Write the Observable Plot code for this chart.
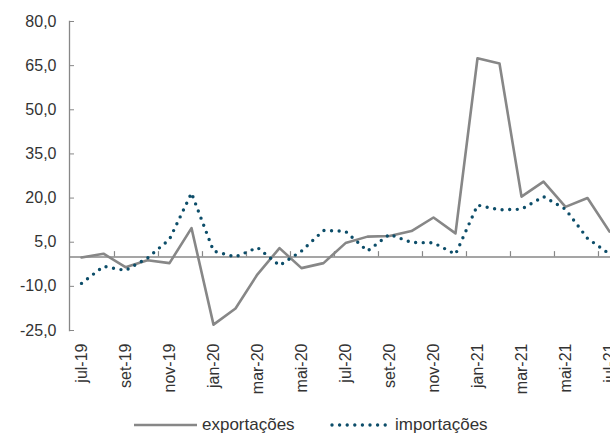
<!DOCTYPE html>
<html>
<head>
<meta charset="utf-8">
<script src="https://cdn.jsdelivr.net/npm/d3@7"></script>
<script src="https://cdn.jsdelivr.net/npm/@observablehq/plot@0.6"></script>
<style>
  html, body { margin: 0; padding: 0; background: #fff; overflow: hidden; }
  #chart svg { overflow: hidden; }
  .legend { position: relative; height: 30px; font-family: "Liberation Sans", Arial, sans-serif; font-size: 17px; color: #333; }
  .legend .item { position: absolute; top: 11px; display: flex; align-items: center; }
  .legend svg { display: block; margin-right: 5px; }
</style>
</head>
<body>
<div id="chart"></div>
<div class="legend" id="legend"></div>
<script>
// Monthly year-on-year change (%), Jul 2019 – Jul 2021
const months = [
  "jul-19", "ago-19", "set-19", "out-19", "nov-19", "dez-19",
  "jan-20", "fev-20", "mar-20", "abr-20", "mai-20", "jun-20",
  "jul-20", "ago-20", "set-20", "out-20", "nov-20", "dez-20",
  "jan-21", "fev-21", "mar-21", "abr-21", "mai-21", "jun-21", "jul-21"
];
const exportacoes = [
  -0.2, 1.1, -3.5, -1.1, -2.1, 9.8,
  -23.0, -17.5, -5.9, 3.0, -3.8, -2.1,
  4.7, 6.9, 7.1, 8.8, 13.4, 8.0,
  67.5, 65.7, 20.5, 25.6, 17.0, 20.0, 8.6
];
const importacoes = [
  -9.0, -3.2, -4.6, -0.4, 6.0, 21.7,
  2.0, 0.0, 3.2, -2.9, 2.0, 9.0,
  8.7, 2.0, 7.7, 4.9, 4.8, 0.9,
  17.6, 16.0, 16.2, 20.5, 16.2, 6.3, 1.0
];
const yTicks = [-25, -10, 5, 20, 35, 50, 65, 80];
const seriesNames = ["exportações", "importações"];

const labelMonths = months.filter((d, i) => i % 2 === 0);
const boundaryMonths = labelMonths.slice(1);

const rows = months.map((mes, i) => ({mes, exp: exportacoes[i], imp: importacoes[i]}));

const xRange = [69, 620];
const step = (xRange[1] - xRange[0]) / months.length;
const fmt = d => d.toFixed(1).replace(".", ",");

const grey = "#878787";
const blue = "#0c4d69";

const chart = Plot.plot({
  width: 610,
  height: 404,
  marginLeft: 69,
  marginRight: 0,
  marginTop: 21,
  marginBottom: 74,
  style: {fontFamily: "'Liberation Sans', Arial, sans-serif", fontSize: "16px", color: "#333", background: "#fff"},
  x: {type: "point", domain: months, range: xRange, padding: 0.5, label: null},
  y: {domain: [-25, 80], label: null},
  marks: [
    Plot.ruleY([0], {stroke: grey, strokeWidth: 1.6}),
    // category-boundary ticks on the zero line, every two months
    Plot.ruleX(boundaryMonths, {x: d => d, y1: 0, y2: 1.8, dx: -step / 2, stroke: grey, strokeWidth: 1.2}),
    Plot.frame({anchor: "left", stroke: grey, strokeWidth: 1.3}),
    Plot.axisY({ticks: yTicks, tickSize: -5, tickPadding: 18, tickFormat: fmt, stroke: grey, fill: "#333", label: null}),
    Plot.axisX({ticks: labelMonths, tickRotate: -90, tickSize: 0, tickPadding: 13, fill: "#333", label: null}),
    Plot.lineY(rows, {x: "mes", y: "exp", stroke: grey, strokeWidth: 2.6}),
    Plot.lineY(rows, {x: "mes", y: "imp", stroke: blue, strokeWidth: 3.4, strokeDasharray: "0 7.6", strokeLinecap: "round"})
  ]
});
document.getElementById("chart").append(chart);

// legend
const legend = document.getElementById("legend");
const items = [
  {name: seriesNames[0], left: 134, w: 63, stroke: grey, width: 2.6, dash: null},
  {name: seriesNames[1], left: 330, w: 60, stroke: blue, width: 3.4, dash: "0 7.6"}
];
for (const it of items) {
  const div = document.createElement("div");
  div.className = "item";
  div.style.left = it.left + "px";
  const s = d3.create("svg").attr("width", it.w).attr("height", 12);
  s.append("line").attr("x1", it.dash ? 2 : 0).attr("x2", it.w).attr("y1", 6).attr("y2", 6)
    .attr("stroke", it.stroke).attr("stroke-width", it.width)
    .attr("stroke-dasharray", it.dash).attr("stroke-linecap", it.dash ? "round" : "butt");
  div.append(s.node());
  const span = document.createElement("span");
  span.textContent = it.name;
  div.append(span);
  legend.append(div);
}
</script>
</body>
</html>
